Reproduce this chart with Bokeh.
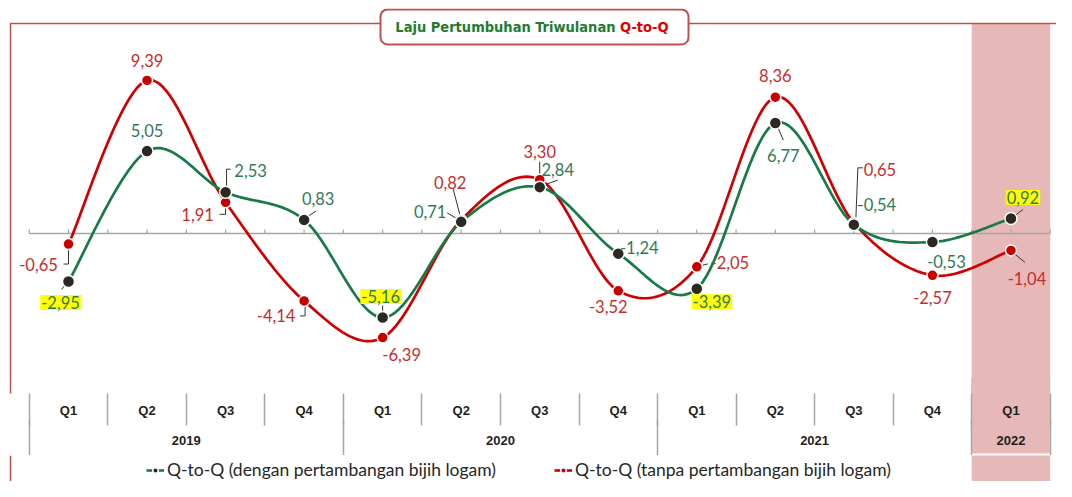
import numpy as np
from bokeh.plotting import figure
from bokeh.layouts import column
from bokeh.models import (ColumnDataSource, Range1d, LinearAxis, FixedTicker,
                          BoxAnnotation, Label, Legend, LegendItem, Span)
from bokeh.core.properties import value
from bokeh.embed import file_html
from bokeh.resources import INLINE

# ---------------- data ----------------
QUARTERS = ["Q1", "Q2", "Q3", "Q4", "Q1", "Q2", "Q3", "Q4", "Q1", "Q2", "Q3", "Q4", "Q1"]
YEARS = ["2019", "2020", "2021", "2022"]
YEAR_COUNTS = [4, 4, 4, 1]
WITH_METAL = [-2.95, 5.05, 2.53, 0.83, -5.16, 0.71, 2.84, -1.24, -3.39, 6.77, 0.54, -0.53, 0.92]
WITHOUT_METAL = [-0.65, 9.39, 1.91, -4.14, -6.39, 0.82, 3.30, -3.52, -2.05, 8.36, 0.65, -2.57, -1.04]
WITH_NAME = "Q-to-Q (dengan pertambangan bijih logam)"
WITHOUT_NAME = "Q-to-Q (tanpa pertambangan bijih logam)"
TITLE_MAIN = "Laju Pertumbuhan Triwulanan "
TITLE_ACCENT = "Q-to-Q"
HIGHLIGHT_WITH = [0, 4, 8, 12]

# ---------------- styles / layout ----------------
GREEN_LINE = "#177a47"
GREEN_TEXT = "#2f7a5a"
GREEN_MARK = "#2a2a22"
RED_LINE = "#d00000"
RED_TEXT = "#c62d2d"
RED_MARK = "#c80000"
FRAME_RED = "#c0504d"
PINK = "#e6b8b7"
SEP_GRAY = "#a6a6a6"

W, H = 1056, 481
PAD = 8                            # white gutter at top / left
FRAME_H = 385
BOTTOM = 62
MAIN_H = PAD + FRAME_H + BOTTOM
LEG_H = H - MAIN_H
PX_X = 1021 / 13.0                 # pixels per category step
X0 = -(68 - PAD) / PX_X            # frame spans the whole width
X1 = (W - 68) / PX_X
Y0, Y1 = -9.82, 13.80
PX_Y = FRAME_H / (Y1 - Y0)
TOP_LINE = (233 - 23) / PX_Y       # open frame top edge (data units)
LEFT_LINE = X0 + 2 / PX_X

# label offsets in screen px (dx right, dy down)
OFF_WITH = [(-8, 21), (0, -21), (25, -22), (14, -21), (-2, -21), (-31, -10), (18, -18),
            (21, -6), (15, 13), (8, 32), (26, -20), (14, 19), (12, -21)]
OFF_WITHOUT = [(-30, 20), (0, -20), (-28, 12), (-28, 15), (19, 17), (-11, -38), (0, -28),
               (-10, 16), (33, -4), (0, -22), (26, -53), (0, 22), (16, 28)]
# leader polylines (screen px relative to point)
LEAD_WITH = {0: [(-3, 3), (-7, 8)], 2: [(1, -4), (1, -23), (5, -23)], 3: [(3, -3), (12, -9)],
             4: [(0, -3), (0, -12)], 5: [(-4, -3), (-14, -9)], 6: [(4, -2), (18, -7)],
             9: [(2, 3), (8, 17)], 10: [(4, -19), (9, -19)], 12: [(3, -2), (12, -9)]}
LEAD_WITHOUT = {0: [(0, 5), (0, 20), (-5, 20)], 2: [(0, 4), (0, 12), (-6, 12)],
                3: [(1, 5), (1, 15), (-4, 15)], 5: [(-1, -4), (-8, -31)], 6: [(0, -5), (0, -18)],
                8: [(4, -1), (11, -3)], 10: [(2, -5), (4, -55), (9, -55)], 12: [(3, 3), (14, 12)]}

LABEL_FONT = "Lato"
AXIS_FONT = "Liberation Sans"
TITLE_FONT = "'Liberation Sans Narrow', 'DejaVu Sans Condensed', sans-serif"


def smooth(ys, n=24):
    x = np.arange(len(ys), dtype=float)
    y = np.asarray(ys, dtype=float)
    px, py = [], []
    for i in range(len(y) - 1):
        i0, i3 = max(i - 1, 0), min(i + 2, len(y) - 1)
        p0 = np.array([x[i0], y[i0]]); p1 = np.array([x[i], y[i]])
        p2 = np.array([x[i + 1], y[i + 1]]); p3 = np.array([x[i3], y[i3]])
        c1 = p1 + (p2 - p0) / 6.0
        c2 = p2 - (p3 - p1) / 6.0
        t = np.linspace(0, 1, n, endpoint=(i == len(y) - 2))
        pts = ((1 - t) ** 3)[:, None] * p1 + (3 * (1 - t) ** 2 * t)[:, None] * c1 \
            + (3 * (1 - t) * t ** 2)[:, None] * c2 + (t ** 3)[:, None] * p2
        px.extend(pts[:, 0]); py.extend(pts[:, 1])
    return px, py


def fmt(v):
    return f"{v:.2f}".replace(".", ",")


x_range = Range1d(X0, X1)
p = figure(width=W, height=MAIN_H, output_backend="svg", toolbar_location=None,
           x_range=x_range, y_range=Range1d(Y0, Y1),
           x_axis_location=None, y_axis_location=None,
           min_border_left=PAD, min_border_right=0, min_border_top=PAD,
           min_border_bottom=BOTTOM)
p.outline_line_color = None
p.grid.visible = False
p.background_fill_color = "white"
p.border_fill_color = "white"

n = len(QUARTERS)
last = n - 1
# highlighted last quarter band (inside frame, behind glyphs)
p.add_layout(BoxAnnotation(left=last - 0.5, right=last + 0.5, top=TOP_LINE, bottom=Y0 - 1,
                           fill_color=PINK, fill_alpha=1, line_color=None, line_alpha=0,
                           level="underlay"))
# open frame (left + top)
p.add_layout(BoxAnnotation(left=LEFT_LINE, right=X1 + 5, top=TOP_LINE, bottom=Y0 - 30,
                           fill_color=None, fill_alpha=0, line_color=FRAME_RED, line_alpha=1,
                           line_width=1.5))

# zero line with small ticks
p.segment(x0=[-0.5], y0=[0], x1=[last + 0.5], y1=[0], line_color=SEP_GRAY, line_width=1.5)
half = np.arange(-0.5, last + 0.51, 0.5)
p.segment(x0=half, y0=np.zeros_like(half), x1=half, y1=np.full_like(half, 4 / PX_Y),
          line_color=SEP_GRAY, line_width=1.2)

idx = list(range(n))
gx, gy = smooth(WITH_METAL)
rx, ry = smooth(WITHOUT_METAL)
p.line(rx, ry, line_color=RED_LINE, line_width=2.7)
p.line(gx, gy, line_color=GREEN_LINE, line_width=2.7)


def leaders(vals, leads):
    xs, ys = [], []
    for i, pts in leads.items():
        xs.append([i + dx / PX_X for dx, dy in pts])
        ys.append([vals[i] - dy / PX_Y for dx, dy in pts])
    return xs, ys


lx, ly = leaders(WITH_METAL, LEAD_WITH)
p.multi_line(lx, ly, line_color="#333333", line_width=1)
lx, ly = leaders(WITHOUT_METAL, LEAD_WITHOUT)
p.multi_line(lx, ly, line_color="#333333", line_width=1)

p.scatter(idx, WITHOUT_METAL, size=11, fill_color=RED_MARK, line_color="white", line_width=1.5)
p.scatter(idx, WITH_METAL, size=12, fill_color=GREEN_MARK, line_color="white", line_width=1.5)


def add_labels(vals, offs, color, highlight):
    for hl in (False, True):
        sel = [i for i in range(len(vals)) if (i in highlight) == hl]
        if not sel:
            continue
        src = ColumnDataSource(dict(x=sel, y=[vals[i] for i in sel],
                                    t=[fmt(vals[i]) for i in sel],
                                    dx=[offs[i][0] for i in sel], dy=[offs[i][1] for i in sel]))
        kw = dict(background_fill_color="#ffff00", padding=1) if hl else {}
        p.text(x="x", y="y", text="t", x_offset="dx", y_offset="dy", source=src,
               text_align="center", text_baseline="middle", text_color=color,
               text_font=value(LABEL_FONT), text_font_size="16.5px", **kw)


add_labels(WITH_METAL, OFF_WITH, GREEN_TEXT, HIGHLIGHT_WITH)
add_labels(WITHOUT_METAL, OFF_WITHOUT, RED_TEXT, [])

# title box
p.add_layout(BoxAnnotation(left=(380 - 68) / PX_X, right=(688 - 68) / PX_X,
                           top=(233 - 9) / PX_Y, bottom=(233 - 44) / PX_Y,
                           fill_color="white", fill_alpha=1, line_color=FRAME_RED, line_alpha=1,
                           line_width=2, border_radius=7))
tx, ty = (668 - 68) / PX_X, (233 - 26.5) / PX_Y
p.add_layout(Label(x=tx, y=ty, text=TITLE_MAIN + TITLE_ACCENT, text_align="right",
                   text_baseline="middle", text_color="#1e7b32", text_font=TITLE_FONT,
                   text_font_style="bold", text_font_size="14.5px"))
p.add_layout(Label(x=tx, y=ty, text=TITLE_ACCENT, text_align="right",
                   text_baseline="middle", text_color="#e00000", text_font=TITLE_FONT,
                   text_font_style="bold", text_font_size="14.5px",
                   background_fill_color="white"))


def band_axis(tick_in, tick_out):
    # bare axis whose single wide tick paints the highlighted column in the label rows
    ax = LinearAxis(ticker=FixedTicker(ticks=[last], minor_ticks=[]))
    ax.major_label_overrides = {last: ""}
    ax.major_label_text_font_size = "0px"
    ax.major_label_standoff = 0
    ax.axis_line_color = None
    ax.minor_tick_line_color = None
    ax.major_tick_line_color = PINK
    ax.major_tick_line_width = PX_X
    ax.major_tick_line_cap = "butt"
    ax.major_tick_in = tick_in
    ax.major_tick_out = tick_out
    ax.level = "guide"
    return ax


# category axes (quarters, then years)
ax1 = LinearAxis(ticker=FixedTicker(ticks=idx, minor_ticks=[i - 0.5 for i in range(n + 1)]))
ax1.major_label_overrides = {i: q for i, q in enumerate(QUARTERS)}
centers, bounds, start = [], [-0.5], -0.5
for c in YEAR_COUNTS:
    centers.append(start + c / 2.0)
    start += c
    bounds.append(start)
ax2 = LinearAxis(ticker=FixedTicker(ticks=centers, minor_ticks=bounds))
ax2.major_label_overrides = {c: y for c, y in zip(centers, YEARS)}
for ax, tick_len, standoff in ((ax1, 32, -23), (ax2, 37, -22)):
    ax.level = "overlay"
    ax.axis_line_color = None
    ax.major_tick_line_color = None
    ax.major_tick_out = 0
    ax.major_tick_in = 0
    ax.minor_tick_out = tick_len
    ax.minor_tick_in = 0
    ax.minor_tick_line_color = SEP_GRAY
    ax.minor_tick_line_width = 1.5
    ax.major_label_standoff = standoff
    ax.major_label_text_font = AXIS_FONT
    ax.major_label_text_font_style = "bold"
    ax.major_label_text_font_size = "13px"
    ax.major_label_text_color = "#1f1f1f"

p.add_layout(ax1, "below")
p.add_layout(band_axis(34, 0), "below")
p.add_layout(ax2, "below")
p.add_layout(band_axis(70, 6), "below")

# legend strip (its y window lies far from the data, so only the keys show)
p2 = figure(width=W, height=LEG_H, output_backend="svg", toolbar_location=None,
            x_range=x_range, y_range=Range1d(100, 101),
            x_axis_location=None, y_axis_location=None,
            min_border_left=PAD, min_border_right=0, min_border_top=0, min_border_bottom=0)
p2.outline_line_color = None
p2.grid.visible = False
p2.border_fill_color = "white"
p2.add_layout(BoxAnnotation(left=last - 0.5, right=last + 0.5, top=102, bottom=99,
                            fill_color=PINK, fill_alpha=1, line_color=None, line_alpha=0,
                            level="underlay"))
p2.add_layout(Span(location=LEFT_LINE, dimension="height", line_color=FRAME_RED, line_width=1.5))
kg_l = p2.line(idx, WITH_METAL, line_color=GREEN_LINE, line_width=2.6)
kg_s = p2.scatter(idx, WITH_METAL, size=8, fill_color=GREEN_MARK, line_color="white", line_width=1.5)
kr_l = p2.line(idx, WITHOUT_METAL, line_color=RED_LINE, line_width=2.6)
kr_s = p2.scatter(idx, WITHOUT_METAL, size=8, fill_color=RED_MARK, line_color="white", line_width=1.5)
legend = Legend(items=[LegendItem(label=WITH_NAME, renderers=[kg_l, kg_s]),
                       LegendItem(label=WITHOUT_NAME, renderers=[kr_l, kr_s])],
                orientation="horizontal", location=(138, 1), spacing=58,
                glyph_width=18, glyph_height=14, label_height=14, label_standoff=3,
                padding=0, margin=0, border_line_color=None, background_fill_alpha=0,
                label_text_font=LABEL_FONT, label_text_font_size="17.5px",
                label_text_color="#262626")
p2.add_layout(legend)

layout = column(p, p2, spacing=0)
open("out.html", "w").write(file_html(layout, INLINE))
